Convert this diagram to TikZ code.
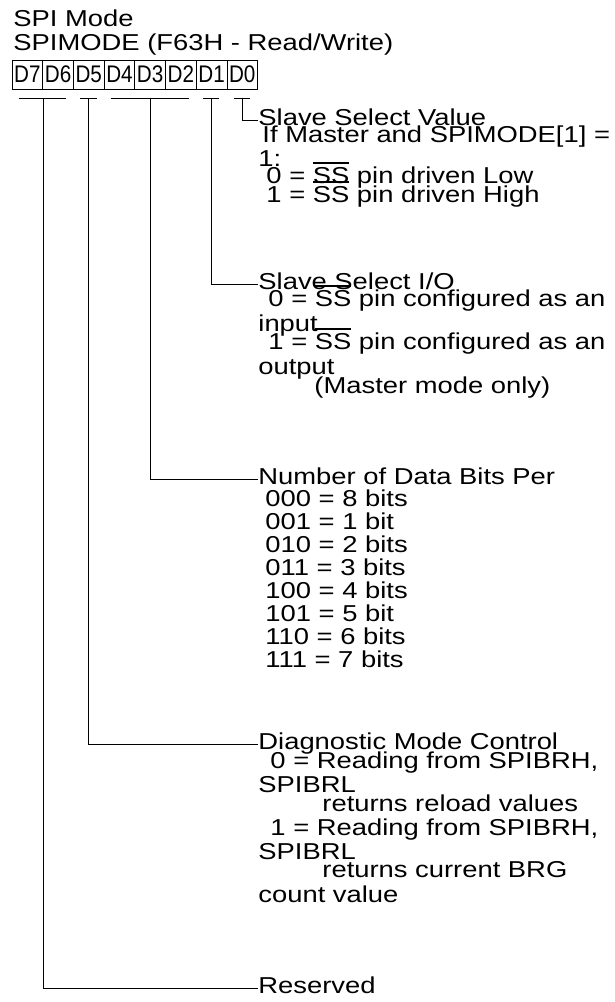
\documentclass[tikz,border=0pt]{standalone}
\usepackage{fontspec}
\setmainfont{Liberation Sans}[FakeStretch=1.19]
\newfontfamily\bitfont{Liberation Sans}[FakeStretch=0.86]
\newlength\sswd
% SS with the bar drawn over it
\newcommand\nSS{\settowidth\sswd{SS}\rlap{\rule[19.5pt]{\sswd}{1.1pt}}SS}

\begin{document}
\begin{tikzpicture}[x=1pt,y=-1pt,line width=0.9pt,
  txt/.style={anchor=base west,inner sep=0pt,font=\fontsize{23}{23}\selectfont},
  bitbox/.style={draw,line width=0.8pt,minimum width=30.7pt,minimum height=29pt,
    inner sep=0pt,font=\bitfont\fontsize{24}{24}\selectfont}]
  \useasboundingbox (0,0) rectangle (615,1002);
  % title
  \node[txt] (mode) at (13,26) {SPI Mode};
  \node[txt] (reg) at (13,50) {SPIMODE (F63H - Read/Write)};
  % register bits
  \foreach \b [count=\i from 0] in {7,6,...,0}
    \node[bitbox] (d\b) at (27.35+30.7*\i,74.5) {D\b};
  % D0
  \node[txt] (ssv) at (258,125) {Slave Select Value};
  \foreach \y/\x/\lbl [count=\i] in {142/262/{If Master and SPIMODE[1] =},
      166/258/{1:}, 183/266/{0 = \nSS{} pin driven Low}, 202/266/{1 = \nSS{} pin driven High}}
    \node[txt] (ssv\i) at (\x,\y) {\lbl};
  % D1
  \node[txt] (ssio) at (258,289) {Slave Select I/O};
  \foreach \y/\x/\lbl [count=\i] in {306/268/{0 = \nSS{} pin configured as an}, 331/258/{input},
      349/268/{1 = \nSS{} pin configured as an}, 374/258/{output}, 393/314/{(Master mode only)}}
    \node[txt] (ssio\i) at (\x,\y) {\lbl};
  % D4-D2
  \node[txt] (ndb) at (258,484) {Number of Data Bits Per};
  \foreach \lbl [count=\i] in {000 = 8 bits, 001 = 1 bit, 010 = 2 bits, 011 = 3 bits,
      100 = 4 bits, 101 = 5 bit, 110 = 6 bits, 111 = 7 bits}
    \node[txt] (ndb\i) at (265,483+23*\i) {\lbl};
  % D5
  \node[txt] (dmc) at (258,749) {Diagnostic Mode Control};
  \foreach \y/\x/\lbl [count=\i] in {768/270/{0 = Reading from SPIBRH,}, 792/258/{SPIBRL},
      811/322/{returns reload values}, 835/270/{1 = Reading from SPIBRH,}, 859/258/{SPIBRL},
      877/322/{returns current BRG}, 902/258/{count value}}
    \node[txt] (dmc\i) at (\x,\y) {\lbl};
  % D7-D6
  \node[txt] (rsv) at (258,993) {Reserved};
  % brackets
  \foreach \l/\r/\m/\f in {d7/d6/d7.south east/rsv, d5/d5/d5.south/dmc, d4/d2/d3.south/ndb,
      d1/d1/d1.south/ssio, d0/d0/d0.south/ssv} {
    \draw ([xshift=7pt,yshift=-9pt]\l.south west) -- ([xshift=-8pt,yshift=-9pt]\r.south east);
    \draw ([yshift=-9pt]\m) |- ([yshift=5pt]\f.base west);
  }
\end{tikzpicture}
\end{document}
